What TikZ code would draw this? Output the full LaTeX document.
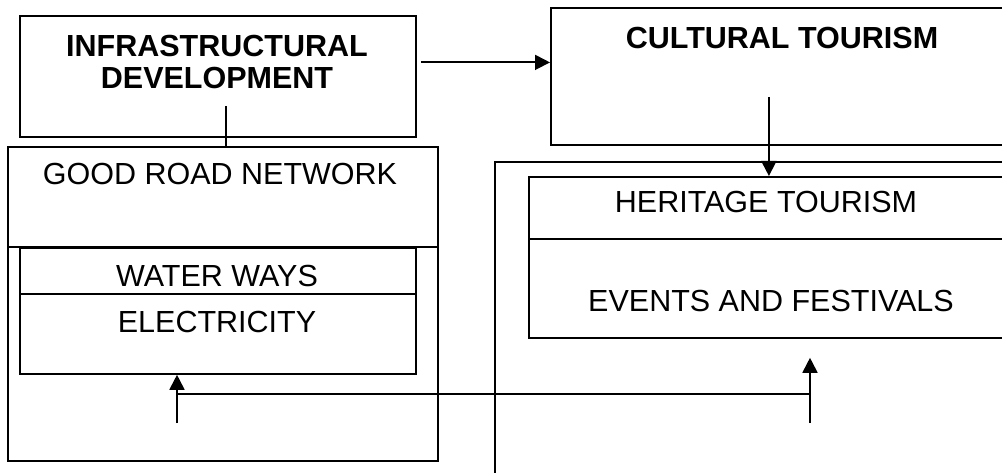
\documentclass[tikz,border=0pt]{standalone}
\usepackage{fontspec}
\setmainfont{Liberation Sans}
\usetikzlibrary{arrows.meta,positioning}

\tikzset{
  box/.style={draw, line width=1.8pt, rectangle, inner sep=0pt, anchor=north west},
  txt/.style={font=\fontsize{30.5}{32}\selectfont, anchor=base, inner sep=0pt},
  head/.style={font=\fontsize{30.5}{32}\selectfont\bfseries, align=center, anchor=north, inner sep=0pt},
  arr/.style={line width=1.8pt, -{Triangle[length=15pt,width=15pt]}},
  ln/.style={line width=1.8pt}
}

\begin{document}
\begin{tikzpicture}[x=1pt,y=-1pt]

\useasboundingbox (0,0) rectangle (1002,473);
\clip (0,0) rectangle (1002,473);

% left column
\node[box, minimum width=396pt, minimum height=121pt] (infra) at (19,15) {};
\node[head] (infratxt) at (217,35) {INFRASTRUCTURAL\\DEVELOPMENT};

\node[box, minimum width=430pt, minimum height=314pt] (road) at (7,146) {};
\node[txt] (roadtxt) at (220,185) {GOOD ROAD NETWORK};
\draw[ln] ([yshift=-101pt]road.north west) -- ([yshift=-101pt]road.north east);

\node[box, minimum width=396pt, minimum height=126pt] (utility) at (19,247) {};
\draw[ln] ([yshift=-47pt]utility.north west) -- ([yshift=-47pt]utility.north east);
\node[txt] (water) at (217,287) {WATER WAYS};
\node[txt] (power) at (217,332) {ELECTRICITY};

% right column
\node[box, minimum width=464pt, minimum height=137pt] (culture) at (550,7) {};
\node[head] (culturetxt) at (782,27) {CULTURAL TOURISM};

\node[box, minimum width=540pt, minimum height=340pt] (tourism) at (494,161) {};

\node[box, minimum width=482pt, minimum height=161pt] (heritage) at (528,176) {};
\draw[ln] ([yshift=-63pt]heritage.north west) -- ([yshift=-63pt]heritage.north east);
\node[txt] (herit) at (766,213) {HERITAGE TOURISM};
\node[txt] (events) at (771,312) {EVENTS AND FESTIVALS};

% connectors
\draw[arr] ([shift={(4pt,14pt)}]infra.east) -- ([yshift=14pt]culture.west);
\draw[ln] ([shift={(8pt,32pt)}]infra.south) -- ([xshift=3pt]road.north);
\draw[arr] ([shift={(-14pt,49pt)}]culture.south) -- ([xshift=-14pt]culture.south |- heritage.north);

\coordinate (lfoot) at (177,423);
\coordinate (rfoot) at (810,423);
\coordinate (lbar) at (177,394);
\draw[arr] (lfoot) -- (lfoot |- utility.south);
\draw[arr] (rfoot) -- ([yshift=-19pt]rfoot |- heritage.south);
\draw[ln] (lbar) -- (lbar -| rfoot);

\end{tikzpicture}
\end{document}
